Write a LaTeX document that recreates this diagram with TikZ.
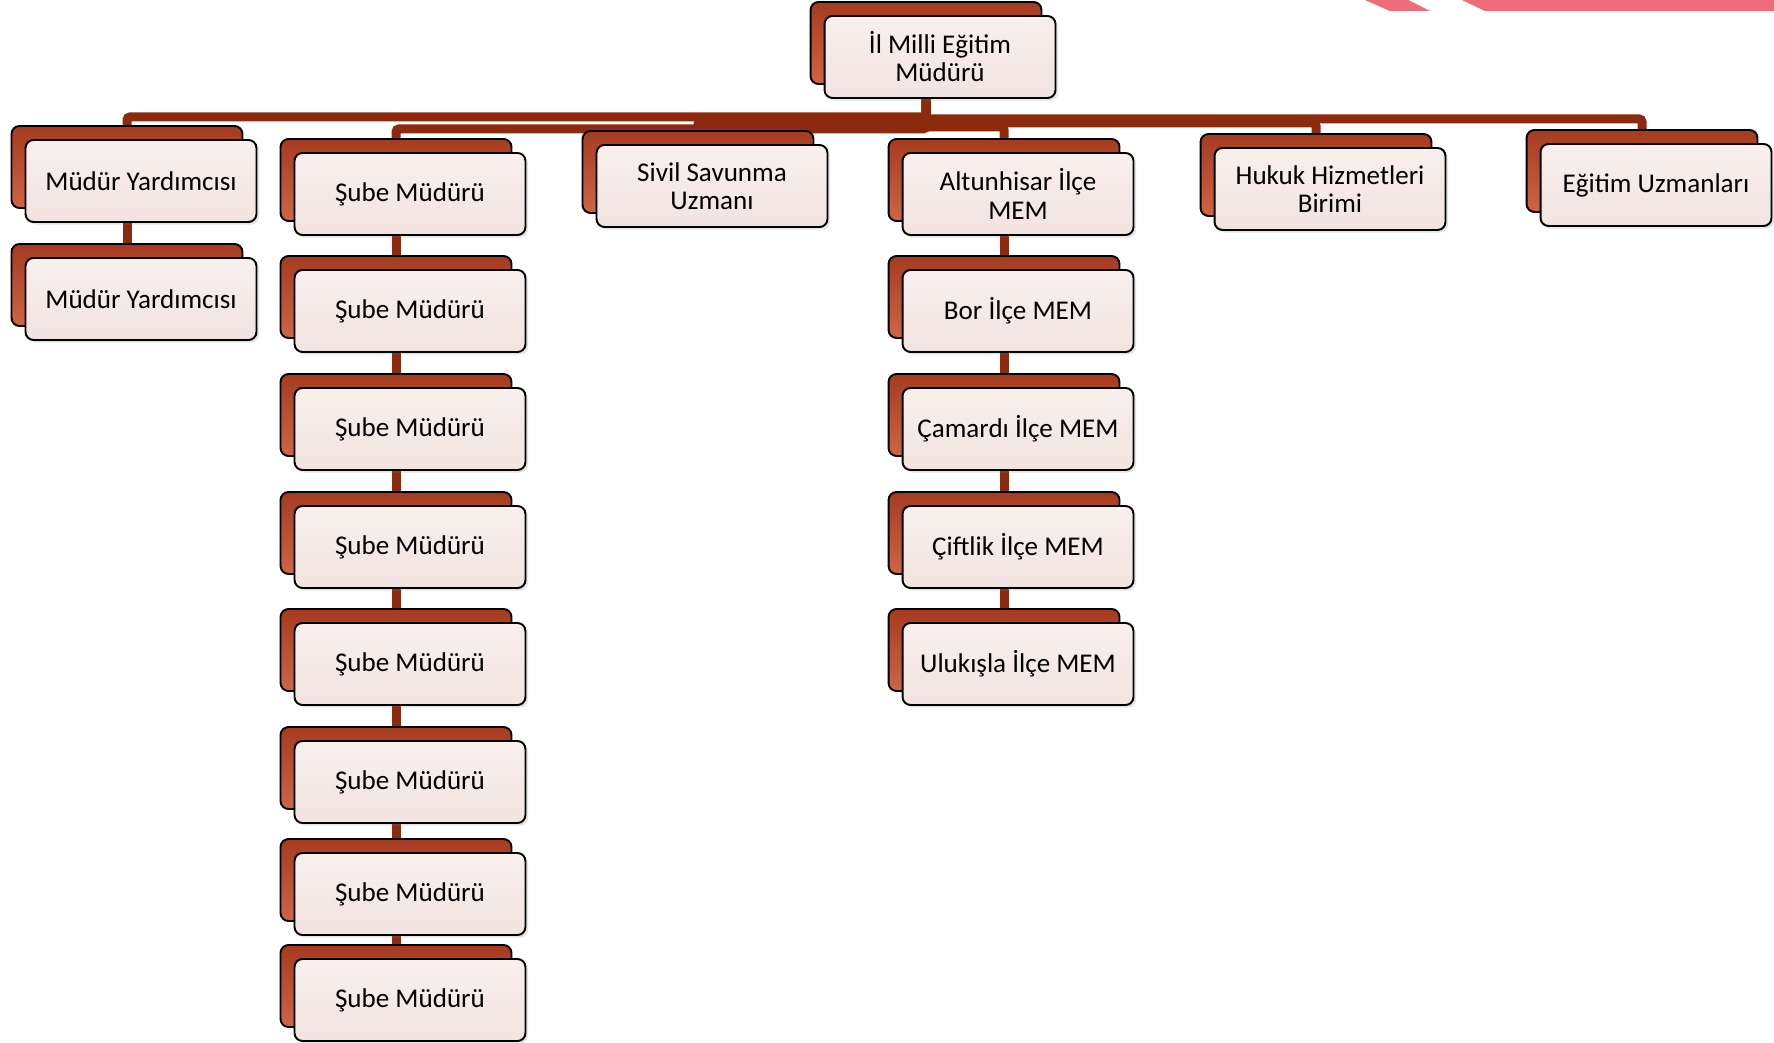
\documentclass[tikz,border=0pt]{standalone}
\usepackage{fontspec}
\setmainfont{Carlito}
\usetikzlibrary{shadows,backgrounds}
\definecolor{connred}{HTML}{8B2A0E}
\definecolor{backtop}{HTML}{A53B1F}
\definecolor{backbot}{HTML}{CF6447}
\definecolor{fronttop}{HTML}{F8F0EE}
\definecolor{frontbot}{HTML}{F1E3E0}
\definecolor{stripe}{HTML}{EE6B77}
\tikzset{
  backbox/.style={draw=black, line width=1.1pt, rounded corners=0.16cm,
    minimum width=4.62cm, minimum height=1.64cm, inner sep=0pt,
    top color=backtop, bottom color=backbot},
  frontbox/.style={draw=black, line width=1.1pt, rounded corners=0.16cm,
    minimum width=4.62cm, minimum height=1.64cm, inner sep=2pt,
    top color=fronttop, bottom color=frontbot, align=center,
    font=\fontsize{15.4}{16}\selectfont,
    drop shadow={shadow xshift=1.5pt, shadow yshift=-1.5pt, opacity=0.2}},
  connector/.style={draw=connred, line width=0.18cm, rounded corners=0.06cm}
}
\newcommand\orgbox[4]{%
  \node[backbox] (#1b) at ({#2-14},{#3-14}) {};
  \node[frontbox] (#1) at (#2,#3) {#4};}
\begin{document}
\begin{tikzpicture}[x=0.02cm,y=-0.02cm]
\useasboundingbox (0,0) rectangle (1774,1043);
\begin{scope}[on background layer]
  \fill[white] (0,0) rectangle (1774,1043);
\end{scope}
% decorative stripe
\fill[stripe] (1365,0) -- (1408,0) -- (1430,11) -- (1390,11) -- cycle;
\fill[stripe] (1462,0) -- (1774,0) -- (1774,11) -- (1485,11) -- cycle;
% boxes
\orgbox{top}{940}{57}{İl Milli Eğitim\\Müdürü}
\orgbox{mya}{141}{181}{Müdür Yardımcısı}
\orgbox{myb}{141}{299}{Müdür Yardımcısı}
\orgbox{sa}{410}{194}{Şube Müdürü}
\orgbox{sb}{410}{311}{Şube Müdürü}
\orgbox{sc}{410}{429}{Şube Müdürü}
\orgbox{sd}{410}{547}{Şube Müdürü}
\orgbox{se}{410}{664}{Şube Müdürü}
\orgbox{sf}{410}{782}{Şube Müdürü}
\orgbox{sg}{410}{894}{Şube Müdürü}
\orgbox{sh}{410}{1000}{Şube Müdürü}
\orgbox{sivil}{712}{186}{Sivil Savunma\\Uzmanı}
\orgbox{alt}{1018}{194}{Altunhisar İlçe\\MEM}
\orgbox{bor}{1018}{311}{Bor İlçe MEM}
\orgbox{cam}{1018}{429}{Çamardı İlçe MEM}
\orgbox{cif}{1018}{547}{Çiftlik İlçe MEM}
\orgbox{ulu}{1018}{664}{Ulukışla İlçe MEM}
\orgbox{huk}{1330}{189}{Hukuk Hizmetleri\\Birimi}
\orgbox{egt}{1656}{185}{Eğitim Uzmanları}
% connectors
\begin{scope}[on background layer]
  \draw[connector] (topb.south) -- ++(0,32) -| (myab.north);
  \draw[connector] (topb.south) -- ++(0,44) -| (sab.north);
  \draw[connector] (topb.south) -- ++(0,36) -| (sivilb.north);
  \draw[connector] (topb.south) -- ++(0,42) -| (altb.north);
  \draw[connector] (topb.south) -- ++(0,38) -| (hukb.north);
  \draw[connector] (topb.south) -- ++(0,34) -| (egtb.north);
  \draw[connector] (myab.south) -- (mybb.north);
  \draw[connector] (sab.south) -- (sbb.north);
  \draw[connector] (sbb.south) -- (scb.north);
  \draw[connector] (scb.south) -- (sdb.north);
  \draw[connector] (sdb.south) -- (seb.north);
  \draw[connector] (seb.south) -- (sfb.north);
  \draw[connector] (sfb.south) -- (sgb.north);
  \draw[connector] (sgb.south) -- (shb.north);
  \draw[connector] (altb.south) -- (borb.north);
  \draw[connector] (borb.south) -- (camb.north);
  \draw[connector] (camb.south) -- (cifb.north);
  \draw[connector] (cifb.south) -- (ulub.north);
\end{scope}
\end{tikzpicture}
\end{document}
